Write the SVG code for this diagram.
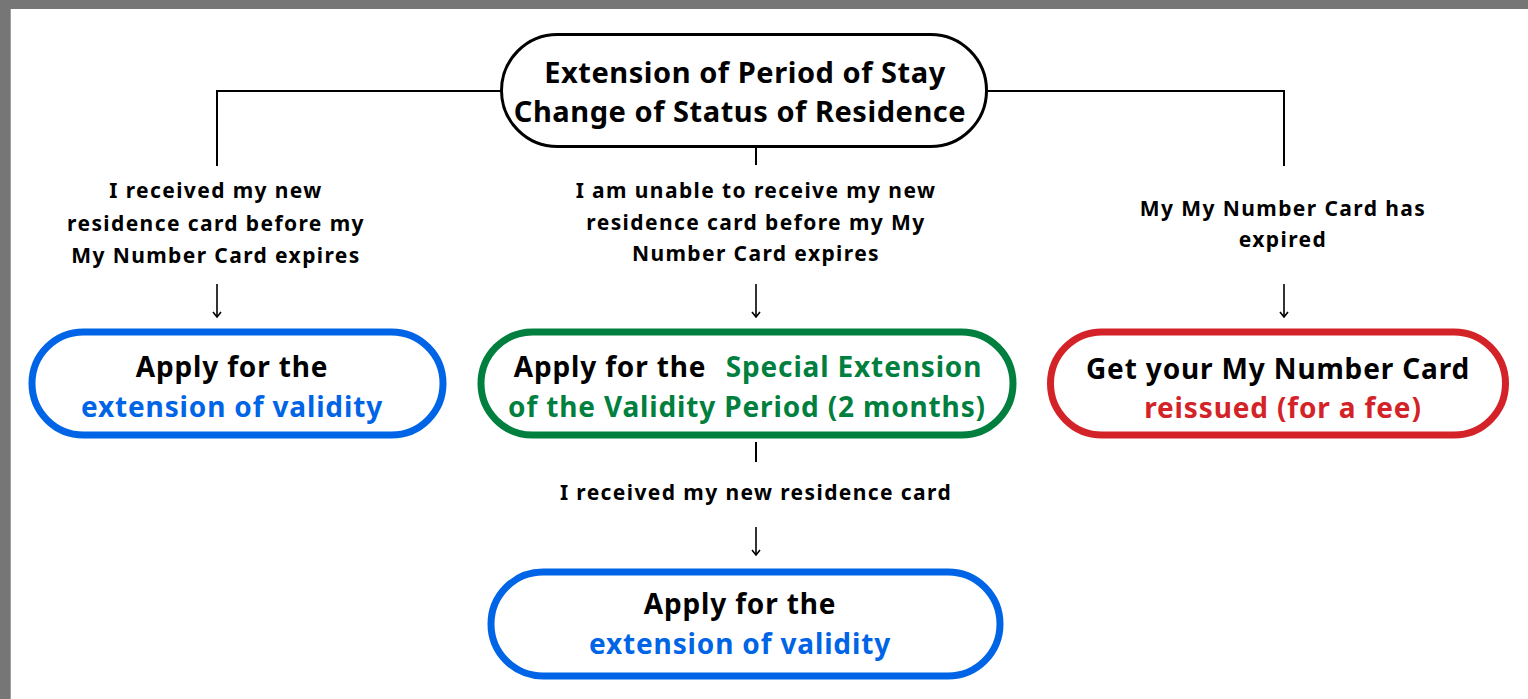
<svg xmlns="http://www.w3.org/2000/svg" width="1528" height="699" viewBox="0 0 1528 699">
  <defs>
    <style>
      text { font-family: "Noto Sans", "DejaVu Sans", sans-serif; font-weight: bold; text-anchor: middle; fill: #000; }
      .title { font-size: 29px; letter-spacing: 0.55px; }
      .lbl { font-size: 21px; letter-spacing: 1.4px; }
      .nt { font-size: 28px; letter-spacing: 0.85px; }
      .blue { fill: #0064e6; }
      .green { fill: #007f3f; }
      .red { fill: #d42328; }
      .pill { fill: #fff; stroke-width: 7; }
      .line { stroke: #000; stroke-width: 2; fill: none; }
      .arr { stroke: #000; stroke-width: 1.6; fill: none; }
    </style>
    <marker id="ah" markerWidth="10" markerHeight="10" refX="8" refY="5" orient="auto" markerUnits="userSpaceOnUse" viewBox="0 0 10 10">
      <path d="M3,1 L8,5 L3,9" fill="none" stroke="#000" stroke-width="1.6"/>
    </marker>
  </defs>
  <rect x="0" y="0" width="1528" height="699" fill="#fff"/>
  <rect x="0" y="0" width="1528" height="9" fill="#767676"/>
  <rect x="0" y="0" width="10" height="699" fill="#767676"/>
  <rect x="10" y="9" width="1" height="690" fill="#a0a0a0"/>

  <g id="connectors">
    <polyline class="line" points="217,166 217,91 501,91"/>
    <polyline class="line" points="1284,166 1284,91 987,91"/>
    <line class="line" x1="756" y1="148" x2="756" y2="165"/>
    <line class="line" x1="756" y1="442" x2="756" y2="462"/>
    <line class="arr" x1="217" y1="284" x2="217" y2="317" marker-end="url(#ah)"/>
    <line class="arr" x1="756" y1="284" x2="756" y2="317" marker-end="url(#ah)"/>
    <line class="arr" x1="1284" y1="284" x2="1284" y2="317" marker-end="url(#ah)"/>
    <line class="arr" x1="756" y1="527" x2="756" y2="555" marker-end="url(#ah)"/>
    <g id="label-left">
      <text class="lbl" x="216" y="198">I received my new</text>
      <text class="lbl" x="216" y="231">residence card before my</text>
      <text class="lbl" x="216" y="263">My Number Card expires</text>
    </g>
    <g id="label-mid">
      <text class="lbl" x="756" y="198">I am unable to receive my new</text>
      <text class="lbl" x="756" y="230">residence card before my My</text>
      <text class="lbl" x="756" y="261">Number Card expires</text>
    </g>
    <g id="label-right">
      <text class="lbl" x="1283" y="216">My My Number Card has</text>
      <text class="lbl" x="1283" y="247">expired</text>
    </g>
    <g id="label-bottom">
      <text class="lbl" x="756" y="500">I received my new residence card</text>
    </g>
  </g>

  <g id="node-top">
    <rect x="501.5" y="34.5" width="485" height="112" rx="56" fill="#fff" stroke="#000" stroke-width="3"/>
    <text class="title" x="745" y="83">Extension of Period of Stay</text>
    <text class="title" x="740" y="122">Change of Status of Residence</text>
  </g>

  <g id="node-left">
    <rect class="pill" x="32" y="332" width="411" height="103" rx="51.5" stroke="#0064e6"/>
    <text class="nt" x="232" y="377">Apply for the</text>
    <text class="nt blue" x="232" y="417">extension of validity</text>
  </g>

  <g id="node-mid">
    <rect class="pill" x="481" y="332" width="532" height="103" rx="51.5" stroke="#007f3f"/>
    <text class="nt" x="610" y="377">Apply for the</text>
    <text class="nt green" x="854" y="377">Special Extension</text>
    <text class="nt green" x="747" y="417">of the Validity Period (2 months)</text>
  </g>

  <g id="node-right">
    <rect class="pill" x="1050.5" y="332" width="455" height="103" rx="51.5" stroke="#d42328"/>
    <text class="nt" x="1278" y="379">Get your My Number Card</text>
    <text class="nt red" x="1283" y="418">reissued (for a fee)</text>
  </g>

  <g id="node-bottom">
    <rect class="pill" x="491" y="572" width="509" height="104" rx="52" stroke="#0064e6"/>
    <text class="nt" x="740" y="614">Apply for the</text>
    <text class="nt blue" x="740" y="654">extension of validity</text>
  </g>
</svg>
